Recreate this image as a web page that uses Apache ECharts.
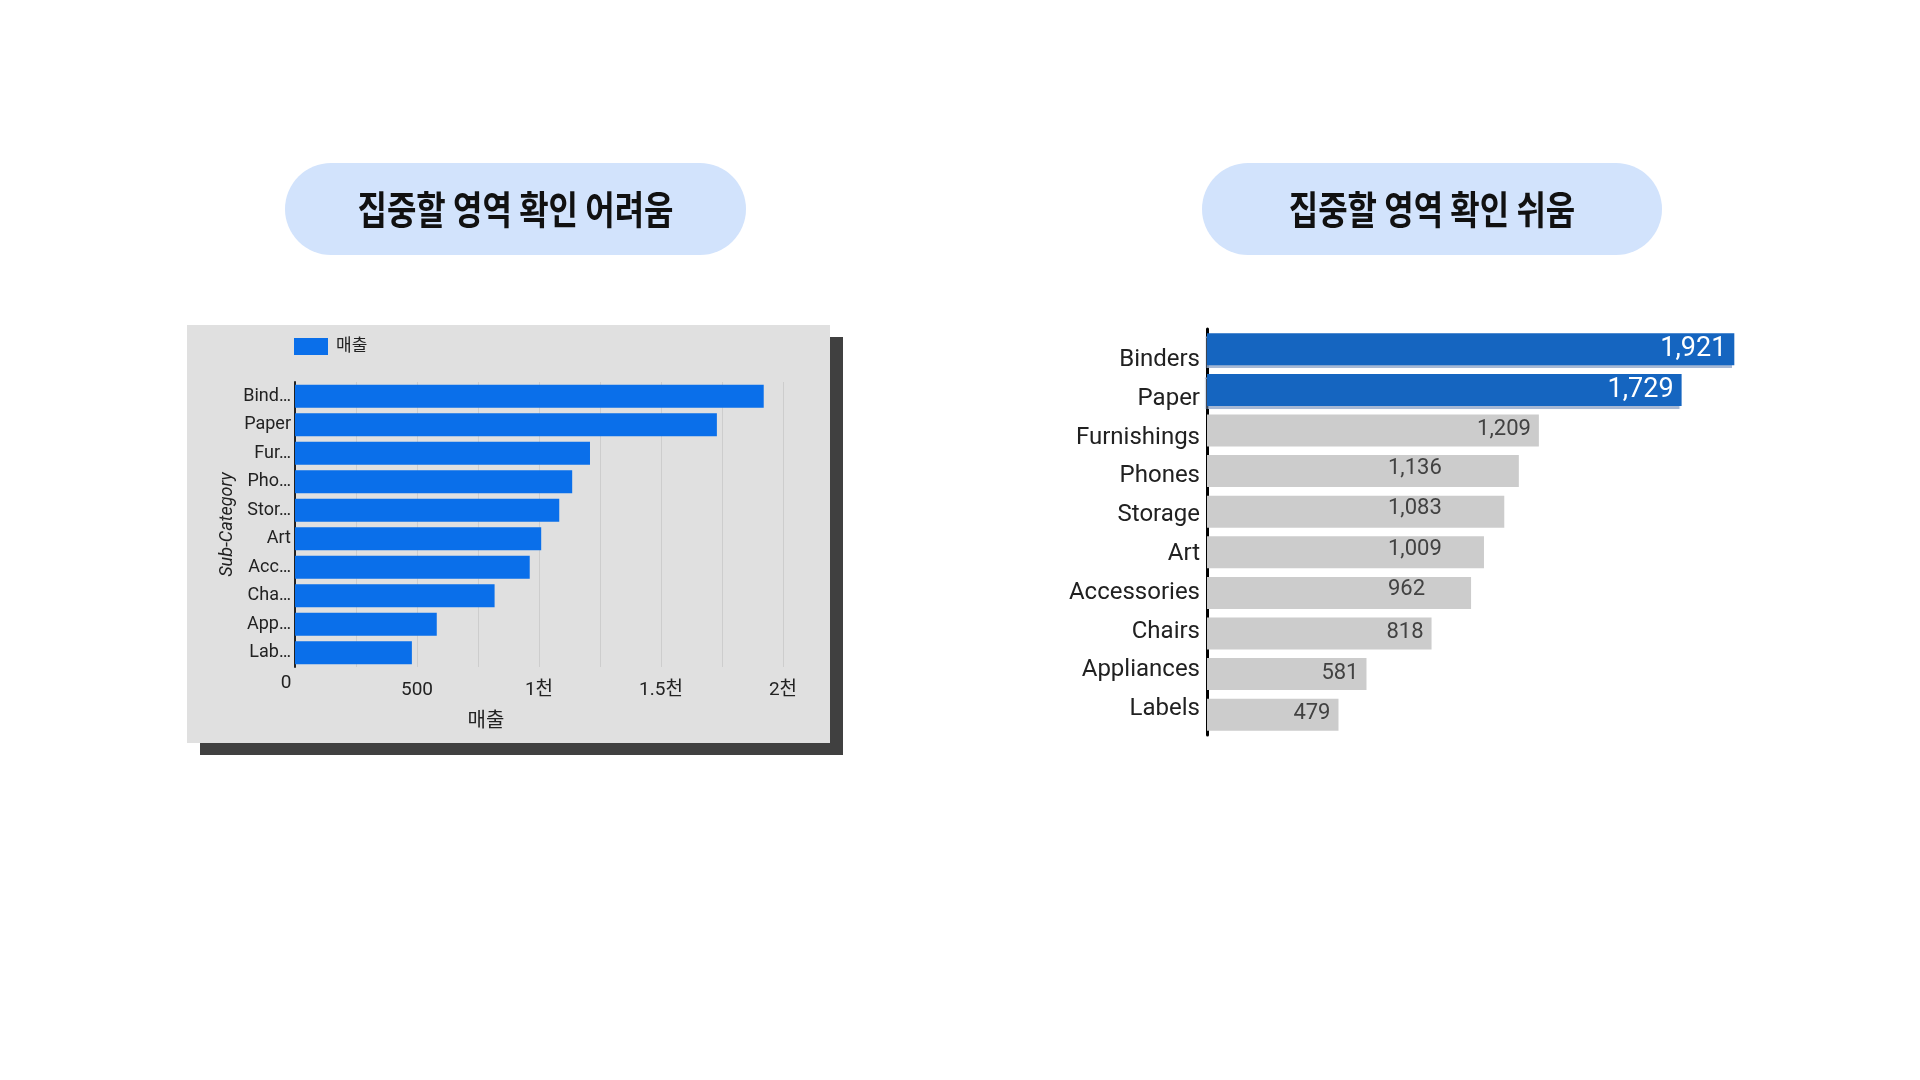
<!DOCTYPE html>
<html>
<head>
<meta charset="utf-8">
<script src="https://cdn.jsdelivr.net/npm/echarts@6/dist/echarts.min.js"></script>
<style>
html,body{margin:0;padding:0;background:#fff;}
#c{width:1920px;height:1080px;}
</style>
</head>
<body>
<div id="c"></div>
<script>
// ---- data ----
const categories = ['Binders','Paper','Furnishings','Phones','Storage','Art','Accessories','Chairs','Appliances','Labels'];
const shortLabels = ['Bind…','Paper','Fur…','Pho…','Stor…','Art','Acc…','Cha…','App…','Lab…'];
const sales = [1921, 1729, 1209, 1136, 1083, 1009, 962, 818, 581, 479];
const leftTitle = '집중할 영역 확인 어려움';
const rightTitle = '집중할 영역 확인 쉬움';
const seriesName = '매출';
const yAxisName = 'Sub-Category';
const highlightCount = 2;

// ---- styles ----
const FONT = 'Roboto, "Noto Sans CJK KR", sans-serif';
const LEFT_BLUE = '#0a6fea';
const RIGHT_BLUE = '#1565c0';
const GRAY_BAR = '#cccccc';
const alignedLabelCats = ['Phones','Storage','Art','Accessories'];

function fmtTick(v){
  if (v % 500 !== 0) return '';
  if (v === 0) return '{z|0}';
  if (v < 1000) return String(v);
  return (v/1000) + '천';
}

const rightData = sales.map((v, i) => {
  const cat = categories[i];
  if (i < highlightCount) {
    return {
      value: v,
      itemStyle: {color: RIGHT_BLUE, shadowColor: 'rgba(150,172,205,0.85)', shadowBlur: 1, shadowOffsetY: 3, shadowOffsetX: -2},
      label: {color: '#ffffff', fontSize: 27, position: 'insideRight', distance: 8}
    };
  }
  const lab = alignedLabelCats.includes(cat)
    ? {position: [181, '50%'], align: 'left', verticalAlign: 'middle', offset: [0, -3]}
    : {position: 'insideRight', distance: 8, offset: [0, -1]};
  return {value: v, itemStyle: {color: GRAY_BAR}, label: Object.assign({color: '#424242', fontSize: 22}, lab)};
});

const chart = echarts.init(document.getElementById('c'), null, {renderer: 'canvas'});
chart.setOption({
  animation: false,
  backgroundColor: '#ffffff',
  textStyle: {fontFamily: FONT},
  graphic: [
    {type: 'rect', z: -10, shape: {x: 285, y: 163, width: 461, height: 92, r: 46}, style: {fill: '#d2e3fc'}},
    {type: 'rect', z: -10, shape: {x: 1202, y: 163, width: 460, height: 92, r: 46}, style: {fill: '#d2e3fc'}},
    {type: 'text', z: -5, x: 515.5, y: 209, scaleX: 0.82,
      style: {text: leftTitle, font: 'bold 39px "Noto Sans CJK KR"', fill: '#111111', align: 'center', verticalAlign: 'middle'}},
    {type: 'text', z: -5, x: 1432, y: 209, scaleX: 0.82,
      style: {text: rightTitle, font: 'bold 39px "Noto Sans CJK KR"', fill: '#111111', align: 'center', verticalAlign: 'middle'}},
    {type: 'rect', z: -10, shape: {x: 200, y: 337, width: 643, height: 418}, style: {fill: '#404040'}},
    {type: 'rect', z: -9, shape: {x: 187, y: 325, width: 643, height: 418}, style: {fill: '#e0e0e0'}}
  ],
  legend: {
    data: [seriesName], left: 294, top: 338, padding: 0, icon: 'rect', itemWidth: 34, itemHeight: 17,
    textStyle: {fontSize: 17, color: '#222222', fontFamily: FONT, padding: [0, 0, 0, 3]}
  },
  grid: [
    {left: 295, top: 382, width: 488, height: 285},
    {left: 1207, top: 329, width: 549, height: 406},
    {left: 1207, top: 340.6, width: 549, height: 388}
  ],
  xAxis: [
    {type: 'value', gridIndex: 0, min: 0, max: 2000, interval: 250,
      axisLine: {show: false}, axisTick: {show: false},
      splitLine: {lineStyle: {color: '#cdcdcd', width: 1}},
      axisLabel: {formatter: fmtTick, fontSize: 19, color: '#222222', margin: 14,
        rich: {z: {fontSize: 19, color: '#222222', lineHeight: 5, padding: [0, 18, 0, 0]}}},
      name: seriesName, nameLocation: 'middle', nameGap: 45,
      nameTextStyle: {fontSize: 20, color: '#222222', padding: [0, 106, 0, 0]}},
    {type: 'value', gridIndex: 1, min: 0, max: 2000, show: false},
    {type: 'value', gridIndex: 2, min: 0, max: 2000, show: false}
  ],
  yAxis: [
    {type: 'category', gridIndex: 0, inverse: true, data: shortLabels,
      axisLine: {lineStyle: {color: '#222222', width: 2}}, axisTick: {show: false},
      axisLabel: {fontSize: 18, color: '#222222', margin: 4},
      name: yAxisName, nameLocation: 'middle', nameRotate: 90, nameGap: 59,
      nameTextStyle: {fontSize: 18, fontStyle: 'italic', color: '#222222'}},
    {type: 'category', gridIndex: 1, inverse: true, data: categories,
      axisLine: {lineStyle: {color: '#000000', width: 3}}, axisTick: {show: false},
      axisLabel: {show: false}},
    {type: 'category', gridIndex: 2, inverse: true, data: categories,
      axisLine: {show: false}, axisTick: {show: false},
      axisLabel: {fontSize: 24, color: '#212121', margin: 7}}
  ],
  series: [
    {type: 'bar', name: seriesName, xAxisIndex: 0, yAxisIndex: 0, data: sales,
      barWidth: 23, itemStyle: {color: LEFT_BLUE}},
    {type: 'bar', name: 'right', xAxisIndex: 1, yAxisIndex: 1, data: rightData,
      barWidth: 32,
      label: {show: true, fontFamily: FONT, formatter: p => p.value.toLocaleString('en-US')}}
  ]
});
</script>
</body>
</html>
